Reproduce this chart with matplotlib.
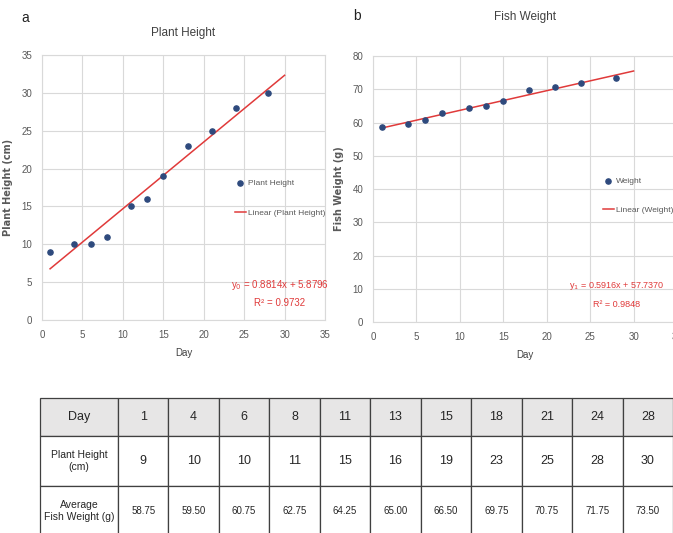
"""
Plant height and fish weight over the growing period, with data table
"""

import numpy as np
import matplotlib
matplotlib.use("Agg")
import matplotlib.pyplot as plt

plt.rcParams['font.family'] = ['Liberation Sans', 'DejaVu Sans']

days = [1, 4, 6, 8, 11, 13, 15, 18, 21, 24, 28]
plant_height = [9, 10, 10, 11, 15, 16, 19, 23, 25, 28, 30]
fish_weight = [58.75, 59.50, 60.75, 62.75, 64.25, 65.00, 66.50, 69.75, 70.75, 71.75, 73.50]
fish_weight_labels = ["58.75", "59.50", "60.75", "62.75", "64.25", "65.00",
                      "66.50", "69.75", "70.75", "71.75", "73.50"]

plant_eq = ["y$_0$ = 0.8814x + 5.8796", "R² = 0.9732"]
fish_eq = ["y$_1$ = 0.5916x + 57.7370", "R² = 0.9848"]

plant_yticks = [0, 5, 10, 15, 20, 25, 30, 35]
fish_yticks = [0, 10, 20, 30, 40, 50, 60, 70, 80]
day_ticks = [0, 5, 10, 15, 20, 25, 30, 35]
trend_end = 30  # Excel forward forecast of the trendline

W, H = 673, 533
MARKER = '#2E4A7D'
TREND = '#E03A3A'
GRID = '#D9D9D9'
TXT = '#595959'


def px_axes(fig, left, top, right, bottom):
    """Axes placed by pixel box (top-left origin)"""
    return fig.add_axes([left / W, (H - bottom) / H, (right - left) / W, (bottom - top) / H])


def style_axes(ax, yticks):
    ax.set_xlim(0, 35)
    ax.set_ylim(yticks[0], yticks[-1])
    ax.set_xticks(day_ticks)
    ax.set_yticks(yticks)
    ax.grid(True, color=GRID, linewidth=0.8)
    ax.set_axisbelow(True)
    for s in ax.spines.values():
        s.set_color(GRID)
        s.set_linewidth(0.8)
    ax.tick_params(length=0, labelsize=7, labelcolor=TXT, pad=7)
    ax.set_xlabel("Day", fontsize=7, color='#404040', labelpad=6)


def draw_chart(ax, y, yticks, name, ylabel, eq, legend_xy, eq_xy, eq_size):
    style_axes(ax, yticks)
    slope, icpt = np.polyfit(days, y, 1)
    xs = np.array([days[0], trend_end])
    pts = ax.scatter(days, y, s=14, color=MARKER, zorder=3, label=name)
    line, = ax.plot(xs, slope * xs + icpt, color=TREND, linewidth=1.1, zorder=2,
                    label=f"Linear ({name})")
    ax.set_ylabel(ylabel, fontsize=7, color=TXT, fontweight='bold', labelpad=6,
                  family='DejaVu Sans')
    ax.legend(handles=[pts, line], loc='center left', bbox_to_anchor=legend_xy,
              frameon=False, fontsize=6, labelcolor=TXT, labelspacing=2.6,
              handlelength=1.3, handletextpad=0.3, borderaxespad=0)
    ax.text(eq_xy[0], eq_xy[1], eq[0], transform=ax.transAxes, ha='center', va='center',
            fontsize=eq_size, color=TREND)
    ax.text(eq_xy[0], eq_xy[1] - 0.068, eq[1], transform=ax.transAxes, ha='center',
            va='center', fontsize=eq_size, color=TREND)


fig = plt.figure(figsize=(W / 100, H / 100), dpi=100)

# a: plant height
ax_a = px_axes(fig, 42, 55, 325, 320)
draw_chart(ax_a, plant_height, plant_yticks, "Plant Height", "Plant Height (cm)",
           plant_eq, (0.67, 0.46), (0.84, 0.132), 7)
ax_a.set_title("Plant Height", fontsize=8.5, color='#404040', pad=14)
fig.text(25 / W, 1 - 18 / H, "a", fontsize=10, color='#222222', ha='center', va='center')

# b: fish weight
ax_b = px_axes(fig, 373, 56, 677, 322)
draw_chart(ax_b, fish_weight, fish_yticks, "Weight", "Fish Weight (g)",
           fish_eq, (0.745, 0.475), (0.8, 0.135), 6.5)
ax_b.set_title("Fish Weight", fontsize=8.5, color='#404040', pad=26)
fig.text(357 / W, 1 - 16 / H, "b", fontsize=10, color='#222222', ha='center', va='center')

# data table
ax_t = px_axes(fig, 40, 398, 673, 536)
ax_t.axis('off')
rows = [["Day"] + [str(d) for d in days],
        ["Plant Height\n(cm)"] + [str(v) for v in plant_height],
        ["Average\nFish Weight (g)"] + fish_weight_labels]
col_w = [78] + [50.5] * len(days)
tbl = ax_t.table(cellText=rows, colWidths=col_w, cellLoc='center', bbox=[0, 0, 1, 1])
tbl.auto_set_font_size(False)
row_h = [38, 50, 50]
for (r, c), cell in tbl.get_celld().items():
    cell.set_height(row_h[r])
    cell.set_edgecolor('#404040')
    cell.set_linewidth(0.9)
    cell.set_facecolor('#E7E6E6' if r == 0 else 'white')
    txt = cell.get_text()
    txt.set_color('#262626')
    if r == 2 and c > 0:
        txt.set_fontsize(7)
    elif c == 0 and r > 0:
        txt.set_fontsize(7.5)
    else:
        txt.set_fontsize(9)
    txt.set_linespacing(1.3)

fig.savefig("out.png", dpi=100)
